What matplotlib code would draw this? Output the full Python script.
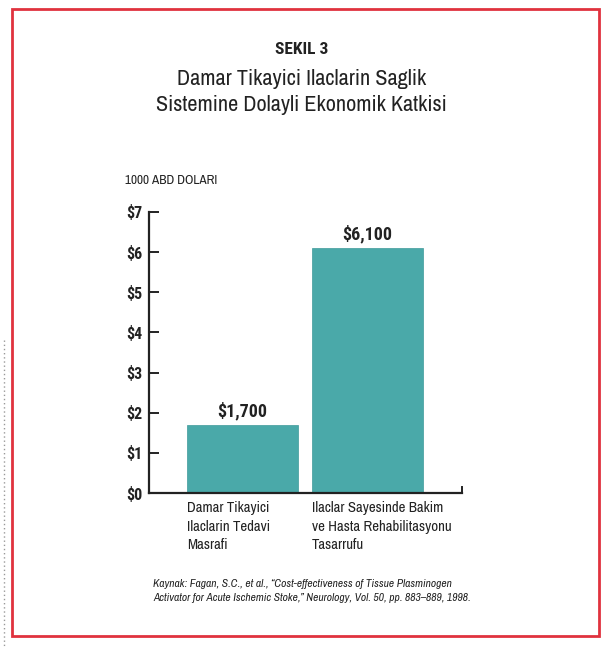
import matplotlib
matplotlib.use("Agg")
import matplotlib.pyplot as plt
from matplotlib.patches import Rectangle
from matplotlib.lines import Line2D
from matplotlib import font_manager as fm

fonts = fm.fontManager.ttflist
names = {f.name for f in fonts}

def has_bold(n):
    return any(f.name == n and (f.weight in ("bold", 700) or (isinstance(f.weight, int) and f.weight >= 700)) for f in fonts)

NARROW = [n for n in ["Archivo Narrow", "Roboto Condensed", "PT Sans Narrow", "Liberation Sans"] if n in names] + ["DejaVu Sans"]
BOLDN = [n for n in ["Roboto Condensed", "PT Sans Narrow", "Barlow Condensed", "Archivo Narrow", "Liberation Sans"] if n in names and has_bold(n)] + ["DejaVu Sans"]

categories = ["Damar Tikayici\nIlaclarin Tedavi\nMasrafi",
              "Ilaclar Sayesinde Bakim\nve Hasta Rehabilitasyonu\nTasarrufu"]
values = [1.7, 6.1]
value_labels = ["$1,700", "$6,100"]
yticks = [0, 1, 2, 3, 4, 5, 6, 7]
ytick_labels = ["$0", "$1", "$2", "$3", "$4", "$5", "$6", "$7"]

W, H = 603, 648
fig = plt.figure(figsize=(W / 100, H / 100), dpi=100)
TXT = "#222222"

def fx(px):
    return px / W

def fy(py):
    return 1 - py / H

# red frame
fig.patches.append(Rectangle((fx(12), fy(636)), fx(599) - fx(12), fy(9) - fy(636),
                             transform=fig.transFigure, fill=False,
                             edgecolor="#e0323e", linewidth=2.0))
# dotted scan edge
fig.lines.append(Line2D([fx(4), fx(4)], [fy(340), fy(648)], transform=fig.transFigure,
                        color="#999999", linestyle=(0, (1, 2)), linewidth=1))

ax = fig.add_axes([fx(149), fy(493), fx(462) - fx(149), fy(212) - fy(493)])
x = list(range(len(values)))
ax.bar(x, values, width=0.888, color="#4aa9a9", edgecolor="#3f9a9a", linewidth=0.5, zorder=2)
ax.set_xlim(-0.748, 1.756)
ax.set_ylim(0, 7)
ax.set_yticks(yticks)
ax.set_yticklabels(ytick_labels, fontsize=11.5, fontweight="bold", family=BOLDN)
ax.set_xticks([])
for s in ["top", "right"]:
    ax.spines[s].set_visible(False)
for s in ["left", "bottom"]:
    ax.spines[s].set_linewidth(1.6)
    ax.spines[s].set_color(TXT)
ax.tick_params(axis="y", direction="in", length=7, width=1.4, pad=5, colors=TXT)

# small end tick on baseline
ax.plot([1.0, 1.0], [0, 0.022], transform=ax.transAxes,
        color=TXT, linewidth=1.4, clip_on=False)

for xi, v, lab in zip(x, values, value_labels):
    ax.text(xi, v + 0.12, lab, ha="center", va="bottom", fontsize=13,
            fontweight="bold", family=BOLDN, color=TXT)

for xi, cat in zip(x, categories):
    ax.text(xi - 0.444, -0.2, cat, ha="left", va="top", fontsize=10.7,
            family=NARROW, color=TXT, linespacing=1.42)

fig.text(0.5, fy(50), "SEKIL 3", ha="center", va="center", fontsize=12.5,
         fontweight="bold", family=BOLDN, color=TXT)
fig.text(0.5, fy(79), "Damar Tikayici Ilaclarin Saglik", ha="center", va="center",
         fontsize=16, family=NARROW, color=TXT)
fig.text(0.5, fy(105), "Sistemine Dolayli Ekonomik Katkisi", ha="center", va="center",
         fontsize=16, family=NARROW, color=TXT)
fig.text(fx(125), fy(180), "1000 ABD DOLARI", ha="left", va="center", fontsize=9.5,
         family=NARROW, color=TXT)

fig.text(fx(153), fy(584), "Kaynak: Fagan, S.C., et al., \u201cCost-effectiveness of Tissue Plasminogen",
         ha="left", va="center", fontsize=8.3, style="italic", family=NARROW, color=TXT)
fig.text(fx(153), fy(598), "Activator for Acute Ischemic Stoke,\u201d Neurology, Vol. 50, pp. 883\u2013889, 1998.",
         ha="left", va="center", fontsize=8.3, style="italic", family=NARROW, color=TXT)

fig.savefig("out.png", dpi=100)
